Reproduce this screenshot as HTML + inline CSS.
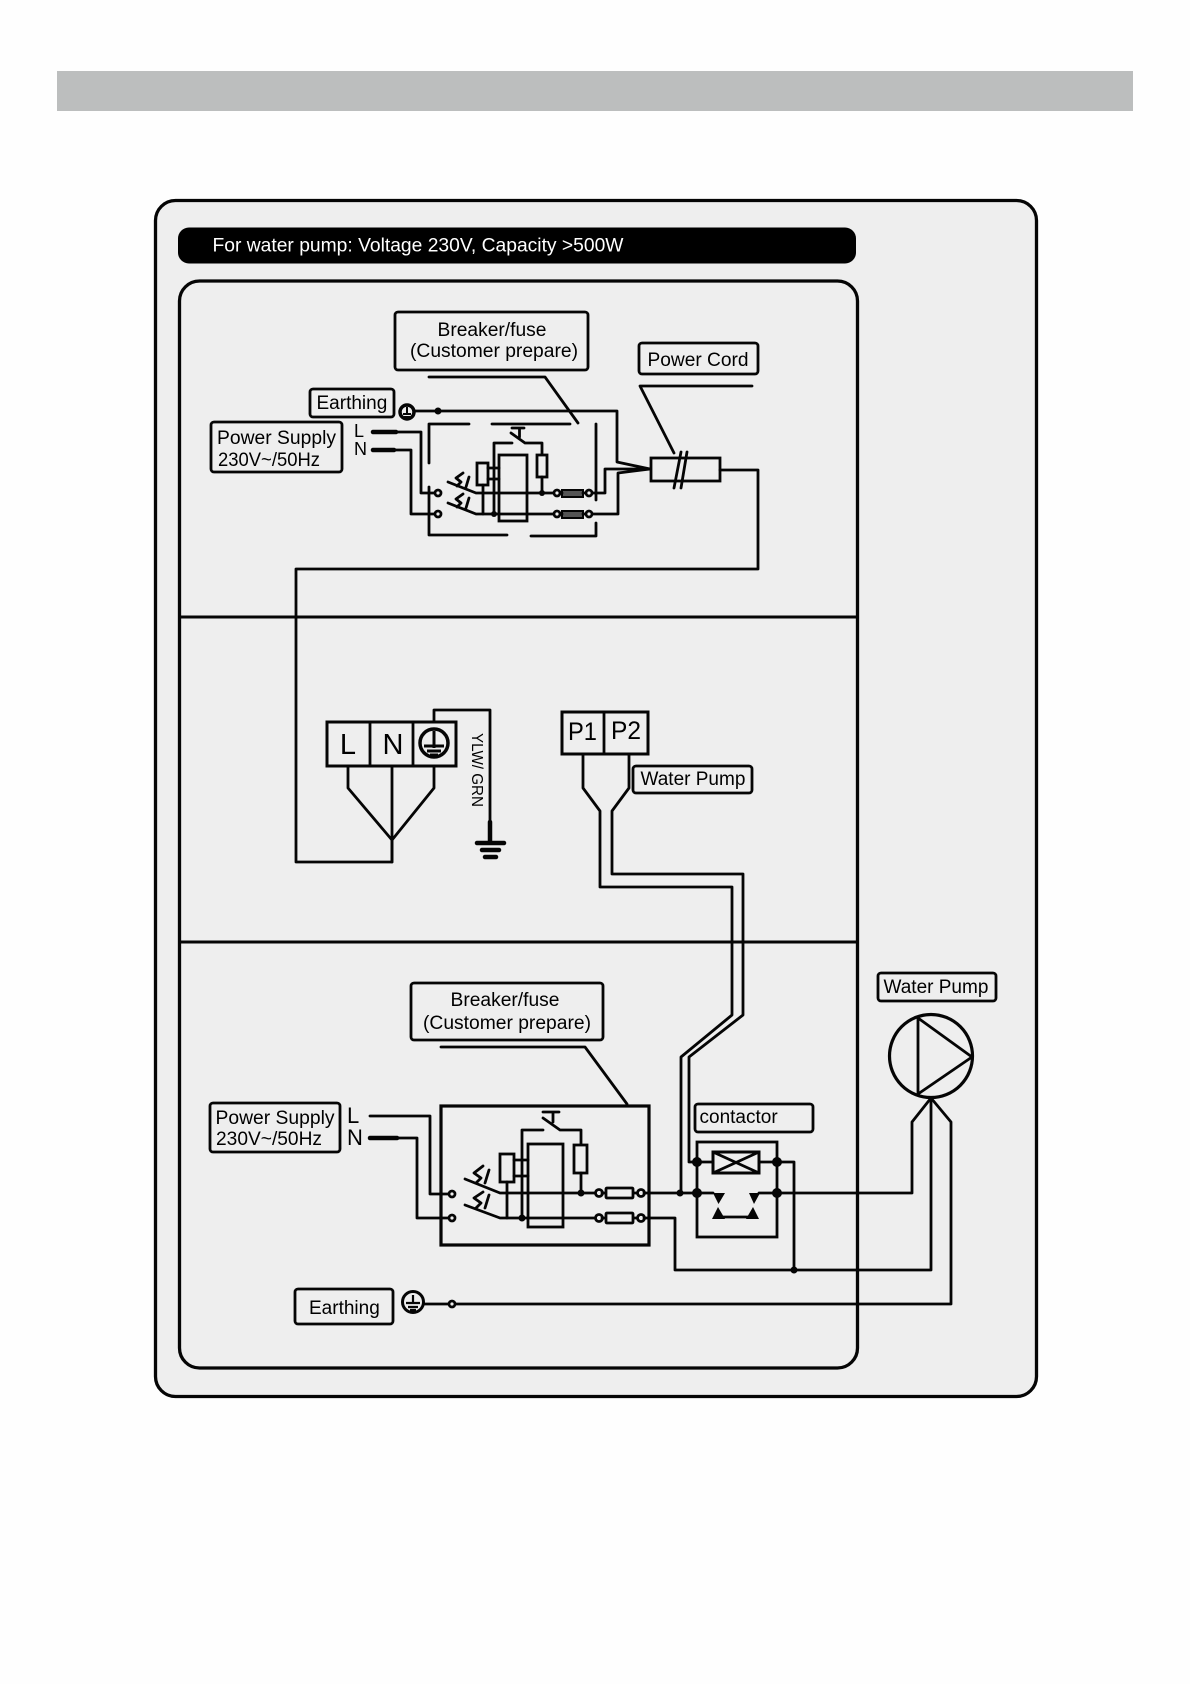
<!DOCTYPE html>
<html><head><meta charset="utf-8"><style>
html,body{margin:0;padding:0;background:#fefefe}
svg{display:block}
text{font-family:"Liberation Sans",sans-serif;font-size:19px;fill:#000}
.w{fill:none;stroke:#050505;stroke-width:2.8;stroke-linejoin:round;stroke-linecap:round}
.t{stroke-width:4.5;}
.b{fill:#eee;stroke:#050505;stroke-width:2.8}
.o{fill:#eee;stroke:#050505;stroke-width:2.8}
.d{fill:#050505;stroke:none}
</style></head><body>
<svg width="1190" height="1684" viewBox="0 0 1190 1684" xmlns="http://www.w3.org/2000/svg">
<rect x="0" y="0" width="1190" height="1684" fill="#fefefe"/>
<rect x="57" y="71" width="1076" height="40" fill="#bcbebe"/>
<rect x="155.5" y="200.500" width="881" height="1196" rx="20" fill="#eee" stroke="#050505" stroke-width="3.300"/>
<rect x="178" y="227.500" width="678" height="36" rx="11" fill="#000"/>
<text x="212.500" y="251.500" style="fill:#fff" textLength="411" lengthAdjust="spacingAndGlyphs">For water pump: Voltage 230V, Capacity &gt;500W</text>
<rect x="179.500" y="281" width="678" height="1087" rx="20" fill="#eee" stroke="#050505" stroke-width="3.300"/>
<path d="M180 617H857M180 942H857" stroke="#050505" stroke-width="3" fill="none"/>

<!-- Upper labels -->
<rect class="b" x="395" y="312" width="193" height="58" rx="3"/>
<text x="492" y="336" text-anchor="middle" textLength="109" lengthAdjust="spacingAndGlyphs">Breaker/fuse</text>
<text x="494" y="357" text-anchor="middle" textLength="168" lengthAdjust="spacingAndGlyphs">(Customer prepare)</text>
<path class="w" d="M429 377H545L578 423"/>
<rect class="b" x="310" y="389" width="84" height="28" rx="3"/>
<text x="316.500" y="409">Earthing</text>
<rect class="b" x="211" y="422" width="131" height="50" rx="3"/>
<text x="217" y="444" textLength="119" lengthAdjust="spacingAndGlyphs">Power Supply</text>
<text x="218" y="466" textLength="102" lengthAdjust="spacingAndGlyphs">230V~/50Hz</text>
<text x="354" y="437" style="font-size:18px">L</text>
<text x="354" y="455" style="font-size:18px">N</text>
<rect class="b" x="639" y="343" width="119" height="31" rx="3"/>
<text x="647.500" y="366" textLength="101" lengthAdjust="spacingAndGlyphs">Power Cord</text>
<path class="w" d="M752 386H640L674 453"/>

<!-- Upper circuit -->
<circle cx="407" cy="412" r="7" fill="#eee" stroke="#050505" stroke-width="3.500"/>
<path d="M407 407V415M403 414H411M404 417H410" fill="none" stroke="#050505" stroke-width="2"/>
<path class="w" d="M414 411H617V462L650 469M650 469H605V493H589M650 469L618 473V514H589"/>
<circle class="d" cx="438" cy="411" r="3.500"/>
<path class="w" d="M429 463V424H469M492 424H570M596 424V500M596 523V536H531M507 535H429V487"/>
<path class="w t" d="M373 432H396M373 450H394" />
<path class="w" d="M396 432H421V493H435M394 450H411V514H435"/>
<circle class="o" cx="438" cy="493" r="3"/><circle class="o" cx="438" cy="514" r="3"/>
<path class="w" d="M448 482L476 493H554M448 503L476 514H554"/>
<path class="w" d="M463 473L456 478L461 482L457 486M469 477L466 487M463 494L456 499L461 503L457 507M469 498L466 508"/>
<rect class="b" x="477" y="463" width="11" height="22" />
<path class="w" d="M483 485V514M488 468H499M488 479H499M494 514V443H512"/>
<circle class="d" cx="494" cy="514" r="3"/>
<rect x="499" y="455" width="28" height="66" fill="none" stroke="#050505" stroke-width="2.800"/>
<path class="w" d="M511 433L525 443H542V455M512 428H524M519.500 428V437"/>
<rect class="b" x="537" y="455" width="10" height="22"/>
<path class="w" d="M542 477V493"/>
<circle class="d" cx="542" cy="493" r="3"/>
<circle class="o" cx="557" cy="493" r="3"/><circle class="o" cx="557" cy="514" r="3"/>
<rect x="562" y="490" width="21" height="7" fill="#555" stroke="#050505" stroke-width="2"/>
<rect x="562" y="511" width="21" height="7" fill="#555" stroke="#050505" stroke-width="2"/>
<path class="w" d="M560 493H562M583 493H586M560 514H562M583 514H586"/>
<circle class="o" cx="589" cy="493" r="3"/><circle class="o" cx="589" cy="514" r="3"/>
<rect class="b" x="651" y="458" width="69" height="23"/>
<path class="w" d="M681 452L674 488M687 452L681 488" />
<path class="w" d="M720 470H758V569H296V862H392V840"/>

<!-- Middle section -->
<rect class="b" x="327" y="722" width="129" height="44" style="stroke-width:3"/>
<path class="w" d="M370 722V766M413 722V766"/>
<text x="348" y="754" text-anchor="middle" style="font-size:29px">L</text>
<text x="393" y="754" text-anchor="middle" style="font-size:29px">N</text>
<circle cx="434" cy="743" r="14" fill="none" stroke="#050505" stroke-width="3.500"/>
<path d="M434 731V748M424 746H444M427 751H441M430 755H438" stroke="#050505" stroke-width="3" fill="none"/>
<path class="w" d="M348 766V788L392 840M392 766V862M434 766V788L392 840"/>
<path class="w" d="M434 722V710H490V822"/>
<path class="w t" d="M490 822V842"/>
<path class="w t" d="M477 843H504M482 850H499M485 857H496"/>
<text transform="translate(472 733) rotate(90)" style="font-size:16px" textLength="74" lengthAdjust="spacingAndGlyphs">YLW/ GRN</text>

<rect class="b" x="562" y="712" width="86" height="42" style="stroke-width:3"/>
<path class="w" d="M604 712V754"/>
<text x="568" y="740" style="font-size:25px" textLength="29" lengthAdjust="spacingAndGlyphs">P1</text>
<text x="611" y="739" style="font-size:25px" textLength="30" lengthAdjust="spacingAndGlyphs">P2</text>
<rect class="b" x="633" y="766" width="119" height="27" rx="3"/>
<text x="640.500" y="785">Water Pump</text>
<path class="w" d="M583 754V788L600 811V887H732V1015L681 1057V1193"/>
<path class="w" d="M629 754V788L612 811V874H743V1015L689 1057V1162H697"/>

<!-- Lower labels -->
<rect class="b" x="411" y="983" width="192" height="57" rx="3"/>
<text x="505" y="1006" text-anchor="middle" textLength="109" lengthAdjust="spacingAndGlyphs">Breaker/fuse</text>
<text x="507" y="1029" text-anchor="middle" textLength="168" lengthAdjust="spacingAndGlyphs">(Customer prepare)</text>
<path class="w" d="M441 1047H585L627 1104"/>
<rect class="b" x="210" y="1103" width="130" height="49" rx="3"/>
<text x="215.500" y="1124" textLength="119" lengthAdjust="spacingAndGlyphs">Power Supply</text>
<text x="216" y="1145" textLength="106" lengthAdjust="spacingAndGlyphs">230V~/50Hz</text>
<text x="347" y="1123" style="font-size:22px">L</text>
<text x="347" y="1145" style="font-size:22px">N</text>
<rect class="b" x="295" y="1289" width="98" height="35" rx="3"/>
<text x="309" y="1314">Earthing</text>
<rect class="b" x="695" y="1104" width="118" height="28" rx="3"/>
<text x="699.500" y="1123">contactor</text>
<rect class="b" x="878" y="973" width="118" height="28" rx="3"/>
<text x="883.500" y="993">Water Pump</text>

<!-- Lower breaker -->
<rect x="441" y="1106" width="208" height="139" fill="none" stroke="#050505" stroke-width="3.200"/>
<path class="w" d="M370 1116H430V1194H449"/>
<path class="w t" d="M370 1138H397"/>
<path class="w" d="M397 1138H417V1218H449"/>
<circle class="o" cx="452" cy="1194" r="3"/><circle class="o" cx="452" cy="1218" r="3"/>
<path class="w" d="M465 1179L500 1193H596M465 1205L500 1218H596"/>
<path class="w" d="M483 1167L474 1174L481 1179L476 1184M489 1171L485 1184M483 1193L474 1199L481 1204L476 1209M489 1196L485 1209" transform="translate(0 -1)"/>
<rect class="b" x="500" y="1154" width="14" height="28"/>
<path class="w" d="M507 1182V1218M514 1160H528M514 1176H528M522 1218V1130H543"/>
<circle class="d" cx="522" cy="1218" r="3.500"/>
<rect x="528" y="1144" width="35" height="83" fill="none" stroke="#050505" stroke-width="2.800"/>
<path class="w" d="M543 1118L560 1130H581V1145M543 1112H559M553 1112V1122"/>
<rect class="b" x="574" y="1145" width="13" height="28"/>
<path class="w" d="M581 1173V1193"/>
<circle class="d" cx="581" cy="1193" r="3.500"/>
<circle class="o" cx="599" cy="1193" r="3.500"/><circle class="o" cx="599" cy="1218" r="3.500"/>
<path class="w" d="M602 1193H606M633 1193H638M602 1218H606M633 1218H638"/>
<rect class="b" x="606" y="1188" width="27" height="10" rx="1"/>
<rect class="b" x="606" y="1213" width="27" height="10" rx="1"/>
<circle class="o" cx="641" cy="1193" r="3.500"/><circle class="o" cx="641" cy="1218" r="3.500"/>

<!-- Earthing -->
<circle cx="413" cy="1302" r="10.500" fill="none" stroke="#050505" stroke-width="3"/>
<path d="M413 1295V1303M406 1303H420M408 1307H418M410 1310H416" stroke="#050505" stroke-width="2.200" fill="none"/>
<path class="w" d="M424 1304H449M455 1304H951V1122L931 1098L912 1122V1193H759"/>
<circle class="o" cx="452" cy="1304" r="3"/>

<!-- Contactor -->
<path class="w" d="M644 1193H713"/>
<path class="w" d="M644 1218H675V1270H931V1098"/>
<circle class="d" cx="680" cy="1193" r="3.500"/>
<rect x="697" y="1142" width="80" height="95" fill="none" stroke="#050505" stroke-width="2.800"/>
<rect x="713" y="1152" width="46" height="21" fill="none" stroke="#050505" stroke-width="3"/>
<path class="w" d="M713 1152L759 1173M713 1173L759 1152"/>
<path class="w" d="M697 1162H713M759 1162H794V1270"/>
<circle class="d" cx="697" cy="1162" r="5"/><circle class="d" cx="777" cy="1162" r="5"/>
<circle class="d" cx="697" cy="1193" r="5"/><circle class="d" cx="777" cy="1193" r="5"/>
<circle class="d" cx="794" cy="1270" r="3.500"/>
<path class="d" d="M713 1193H725L718.500 1204ZM749 1193H760L754 1204ZM712 1219H725L718 1207ZM746 1219H759L753 1207Z"/>
<path class="w" d="M720 1217H752"/>

<!-- Pump -->
<circle cx="931" cy="1056" r="41.500" fill="none" stroke="#050505" stroke-width="3.200"/>
<path class="w" d="M918 1018L972 1057L918 1094Z"/>
</svg>
</body></html>
